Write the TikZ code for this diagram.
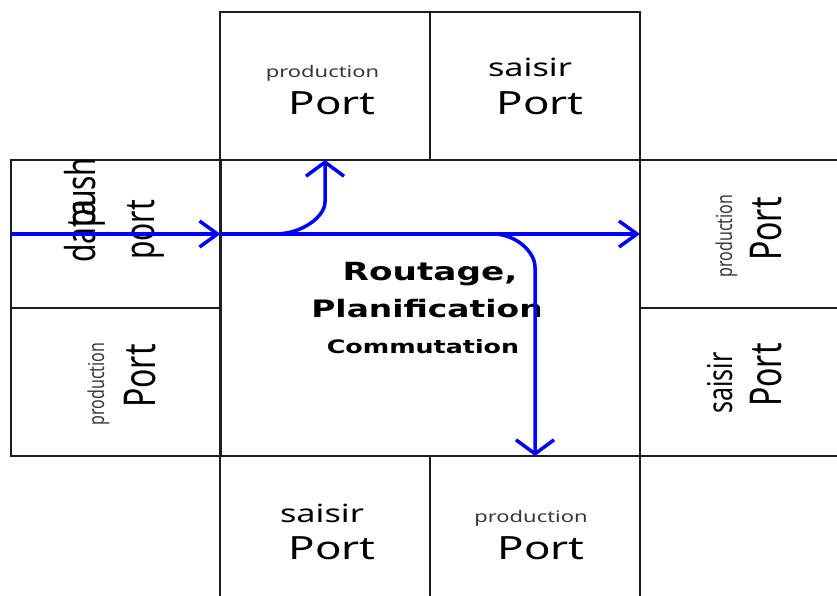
\documentclass[tikz,border=0pt]{standalone}
\usepackage{fontspec}
\usepackage{graphicx}
\usetikzlibrary{arrows.meta}
\setmainfont{Noto Sans}
\newfontfamily\headfont{DejaVu Sans}
% all lettering is set 1.37 times wider than tall
\newcommand\wide[1]{\scalebox{1.37}[1]{#1}}
\newcommand\tall[1]{\scalebox{1.37}[1]{\rotatebox{90}{#1}}}
\newcommand\sz[1]{\fontsize{#1}{#1}\selectfont}
\definecolor{flowblue}{RGB}{0,0,255}
\definecolor{rulegray}{RGB}{30,30,30}
\definecolor{smalltext}{RGB}{55,55,55}

\begin{document}
\begin{tikzpicture}[x=1pt,y=-1pt,
  cell/.style={draw=rulegray, line width=2pt, minimum width=210pt,
    minimum height=148pt, inner sep=0pt, outer sep=0pt},
  txt/.style={inner sep=0pt, outer sep=0pt, anchor=base},
  vtxt/.style={inner sep=0pt, outer sep=0pt, anchor=center},
  hflow/.style={draw=flowblue, line width=3.5pt,
    -{Straight Barb[length=18pt,width=26pt]}},
  vflow/.style={draw=flowblue, line width=3.5pt,
    -{Straight Barb[length=14pt,width=38pt]}}]
\useasboundingbox (0,0) rectangle (837,596);

\begin{scope}
  \clip (0,0) rectangle (837,596);
  % port cells around the switching core
  \node[cell] (tl) at (325,86) {};
  \node[cell] (tr) at (535,86) {};
  \node[cell] (lt) at (115.5,234) {};
  \node[cell] (lb) at (115.5,382) {};
  \node[cell] (rt) at (745,234) {};
  \node[cell] (rb) at (745,382) {};
  \node[cell] (bl) at (325,530) {};
  \node[cell] (br) at (535,530) {};
  \node[cell, minimum width=420pt, minimum height=296pt] (core) at (430,308) {};
\end{scope}

% top cells
\node[txt, text=smalltext] (tlsub) at (322.5,78) {\wide{\sz{16}production}};
\node[txt] (tlport) at (332,115) {\wide{\sz{32}Port}};
\node[txt] (trsub) at (530,77) {\wide{\sz{25}saisir}};
\node[txt] (trport) at (540,115) {\wide{\sz{32}Port}};

% bottom cells
\node[txt] (blsub) at (322,522) {\wide{\sz{25}saisir}};
\node[txt] (blport) at (332,559) {\wide{\sz{32}Port}};
\node[txt, text=smalltext] (brsub) at (531,522) {\wide{\sz{16}production}};
\node[txt] (brport) at (541,559) {\wide{\sz{32}Port}};

% right cells
\node[vtxt, text=smalltext] (rtsub) at (726.5,236) {\tall{\sz{16}production}};
\node[vtxt] (rtport) at (766,229) {\tall{\sz{32}Port}};
\node[vtxt] (rbsub) at (720,383) {\tall{\sz{25}saisir}};
\node[vtxt] (rbport) at (766,375) {\tall{\sz{32}Port}};

% left cells
\node[vtxt, text=smalltext] (lbsub) at (98.5,384) {\tall{\sz{16}production}};
\node[vtxt] (lbport) at (140,376) {\tall{\sz{32}Port}};
\node[vtxt] (ltsub) at (84.5,210) {\tall{\sz{30}\rlap{data}\hspace{1.17em}push}};
\node[vtxt] (ltport) at (146,230) {\tall{\sz{30}port}};

% core label
\node[txt] (head1) at (430,280) {\wide{\headfont\bfseries\sz{25}Routage,}};
\node[txt] (head2) at (427,317) {\wide{\headfont\bfseries\sz{24}Planification}};
\node[txt] (head3) at (423,353) {\wide{\headfont\bfseries\sz{18.5}Commutation}};

% traffic through the switch
\draw[hflow] (lt.west) -- (lt.east);
\draw[hflow] (lt.east) -- (rt.west);
\draw[vflow] (lt.east) -- (275,234)
  .. controls (302.6,234) and (325,216.3) .. (325,202) -- (tl.south);
\draw[vflow] (lt.east) -- (493,234)
  .. controls (516.2,234) and (535,252.2) .. (535,267) -- (br.north);
\end{tikzpicture}
\end{document}
